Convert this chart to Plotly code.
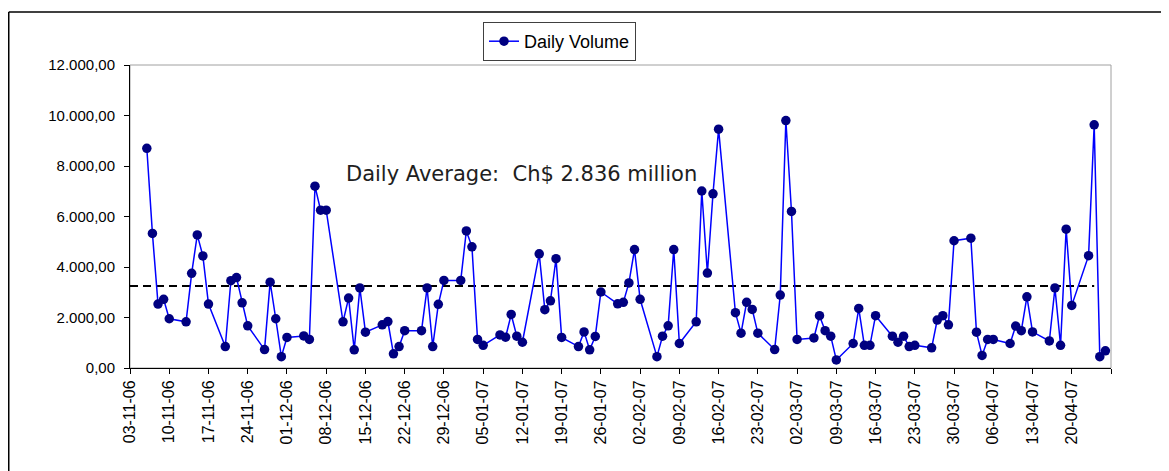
import plotly.graph_objects as go

dates = [
    "2006-11-06", "2006-11-07", "2006-11-08", "2006-11-09", "2006-11-10",
    "2006-11-13", "2006-11-14", "2006-11-15", "2006-11-16", "2006-11-17",
    "2006-11-20", "2006-11-21", "2006-11-22", "2006-11-23", "2006-11-24",
    "2006-11-27", "2006-11-28", "2006-11-29", "2006-11-30", "2006-12-01",
    "2006-12-04", "2006-12-05", "2006-12-06", "2006-12-07", "2006-12-08",
    "2006-12-11", "2006-12-12", "2006-12-13", "2006-12-14", "2006-12-15",
    "2006-12-18", "2006-12-19", "2006-12-20", "2006-12-21", "2006-12-22",
    "2006-12-25", "2006-12-26", "2006-12-27", "2006-12-28", "2006-12-29",
    "2007-01-01", "2007-01-02", "2007-01-03", "2007-01-04", "2007-01-05",
    "2007-01-08", "2007-01-09", "2007-01-10", "2007-01-11", "2007-01-12",
    "2007-01-15", "2007-01-16", "2007-01-17", "2007-01-18", "2007-01-19",
    "2007-01-22", "2007-01-23", "2007-01-24", "2007-01-25", "2007-01-26",
    "2007-01-29", "2007-01-30", "2007-01-31", "2007-02-01", "2007-02-02",
    "2007-02-05", "2007-02-06", "2007-02-07", "2007-02-08", "2007-02-09",
    "2007-02-12", "2007-02-13", "2007-02-14", "2007-02-15", "2007-02-16",
    "2007-02-19", "2007-02-20", "2007-02-21", "2007-02-22", "2007-02-23",
    "2007-02-26", "2007-02-27", "2007-02-28", "2007-03-01", "2007-03-02",
    "2007-03-05", "2007-03-06", "2007-03-07", "2007-03-08", "2007-03-09",
    "2007-03-12", "2007-03-13", "2007-03-14", "2007-03-15", "2007-03-16",
    "2007-03-19", "2007-03-20", "2007-03-21", "2007-03-22", "2007-03-23",
    "2007-03-26", "2007-03-27", "2007-03-28", "2007-03-29", "2007-03-30",
    "2007-04-02", "2007-04-03", "2007-04-04", "2007-04-05", "2007-04-06",
    "2007-04-09", "2007-04-10", "2007-04-11", "2007-04-12", "2007-04-13",
    "2007-04-16", "2007-04-17", "2007-04-18", "2007-04-19", "2007-04-20",
    "2007-04-23", "2007-04-24", "2007-04-25", "2007-04-26",
]

daily_volume = [
    8700, 5330, 2530, 2720, 1950,
    1830, 3750, 5270, 4440, 2530,
    850, 3460, 3580, 2580, 1670,
    730, 3400, 1950, 450, 1210,
    1270, 1130, 7200, 6250, 6250,
    1830, 2770, 720, 3170, 1420,
    1710, 1840, 560, 850, 1480,
    1480, 3170, 850, 2520, 3470,
    3470, 5430, 4800, 1130, 900,
    1310, 1220, 2120, 1260, 1020,
    4520, 2310, 2660, 4330, 1210,
    850, 1430, 720, 1250, 3010,
    2540, 2600, 3370, 4690, 2720,
    450, 1260, 1670, 4690, 970,
    1830, 7010, 3760, 6900, 9460,
    2190, 1380, 2600, 2320, 1380,
    730, 2890, 9800, 6200, 1130,
    1190, 2070, 1480, 1260, 320,
    970, 2360, 900, 900, 2070,
    1260, 1020, 1260, 850, 900,
    800, 1900, 2070, 1710, 5040,
    5140, 1420, 500, 1130, 1130,
    970, 1660, 1480, 2820, 1430,
    1070, 3170, 900, 5500, 2480,
    4450, 9630, 450, 680,
]

tick_dates = [
    "2006-11-03", "2006-11-10", "2006-11-17", "2006-11-24", "2006-12-01",
    "2006-12-08", "2006-12-15", "2006-12-22", "2006-12-29", "2007-01-05",
    "2007-01-12", "2007-01-19", "2007-01-26", "2007-02-02", "2007-02-09",
    "2007-02-16", "2007-02-23", "2007-03-02", "2007-03-09", "2007-03-16",
    "2007-03-23", "2007-03-30", "2007-04-06", "2007-04-13", "2007-04-20",
]

avg_dates = ["2006-11-03", "2007-04-24"]
avg_level = [3250, 3250]

x_range = ["2006-11-03", "2007-04-27"]
y_range = [0, 12000]

# page has an 8px body margin; figure is sized so plot lands where the reference's does
OFF = 8
W, H = 1169 - OFF, 471 - OFF
L, R, T, B = 130 - OFF, 58, 65 - OFF, 103
PW, PH = W - L - R, H - T - B


def px(xp):
    return (xp - OFF - L) / PW


def py(yp):
    return (H - B - (yp - OFF)) / PH


fig = go.Figure()
fig.add_trace(go.Scatter(
    x=avg_dates, y=avg_level, mode="lines",
    line=dict(color="black", width=2, dash="8px,5px"),
    showlegend=False, hoverinfo="skip",
))
fig.add_trace(go.Scatter(
    x=dates, y=daily_volume, mode="lines+markers", name="Daily Volume",
    line=dict(color="#0000FF", width=1.5),
    marker=dict(color="#000080", size=9.5),
))

fig.update_layout(
    width=W, height=H,
    margin=dict(l=L, r=R, t=T, b=B, pad=0),
    paper_bgcolor="white", plot_bgcolor="white",
    separators=",.",
    showlegend=True,
    legend=dict(
        x=px(483), y=py(22), xanchor="left", yanchor="top",
        bgcolor="white", bordercolor="#404040", borderwidth=1,
        font=dict(family="Liberation Sans, Arial, sans-serif", size=18, color="black"),
        itemwidth=30,
    ),
    xaxis=dict(
        type="date", range=x_range,
        tickvals=tick_dates, tickformat="%d-%m-%y",
        tickangle=-90, ticks="outside", ticklen=5, tickcolor="black",
        minor=dict(tick0="2006-11-03", dtick=7 * 86400000, ticks="outside",
                   ticklen=5, tickcolor="black", showgrid=False),
        showline=True, linecolor="black", linewidth=1,
        showgrid=False, zeroline=False,
        tickfont=dict(family="Liberation Sans, Arial, sans-serif", size=16, color="black"),
    ),
    yaxis=dict(
        range=y_range, dtick=2000, tickformat=",.2f",
        ticks="outside", ticklen=5, tickcolor="black",
        showline=True, linecolor="black", linewidth=1,
        showgrid=False, zeroline=False,
        tickfont=dict(family="Liberation Sans, Arial, sans-serif", size=15, color="black"),
        ticklabelstandoff=6,
    ),
    annotations=[dict(
        text="Daily Average:  Ch$ 2.836 million",
        xref="paper", yref="paper", x=px(344), y=py(174),
        xanchor="left", yanchor="middle", showarrow=False,
        font=dict(family="DejaVu Sans, Verdana, sans-serif", size=21, color="#202020"),
    )],
    shapes=[
        dict(type="rect", xref="paper", yref="paper", x0=0, y0=0, x1=1, y1=1,
             line=dict(color="#A0A0A0", width=1), layer="below"),
        dict(type="line", xref="paper", yref="paper", x0=px(8.75), x1=px(1185),
             y0=py(12), y1=py(12), line=dict(color="black", width=1.5)),
        dict(type="line", xref="paper", yref="paper", x0=px(8.75), x1=px(8.75),
             y0=py(12), y1=py(490), line=dict(color="black", width=1.5)),
    ],
)

fig.write_html("out.html")
